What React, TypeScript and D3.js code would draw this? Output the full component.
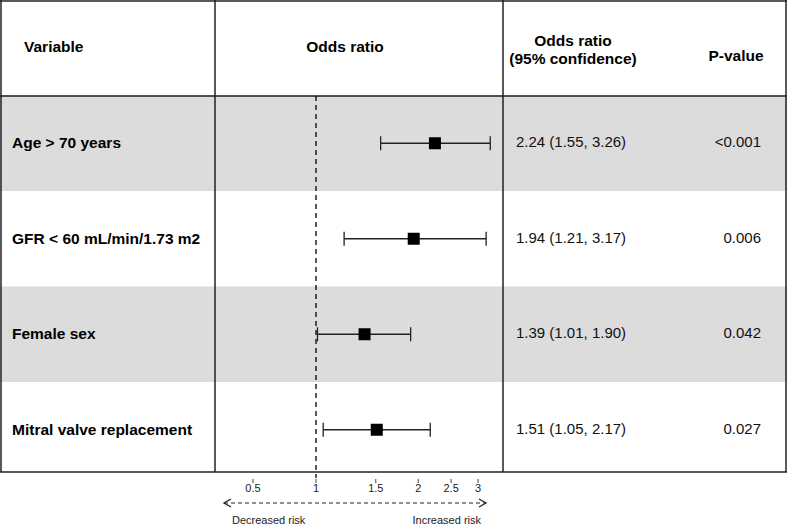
import React from "react";
import * as d3 from "d3";

const variables = ["Age > 70 years", "GFR < 60 mL/min/1.73 m2", "Female sex", "Mitral valve replacement"];
const oddsRatio = [2.24, 1.94, 1.39, 1.51];
const lowerCI = [1.55, 1.21, 1.01, 1.05];
const upperCI = [3.26, 3.17, 1.9, 2.17];
const pValues = ["<0.001", "0.006", "0.042", "0.027"];
const tickValues = [0.5, 1, 1.5, 2, 2.5, 3];
const tickLabels = ["0.5", "1", "1.5", "2", "2.5", "3"];

const W = 787;
const H = 525;
const FONT = "'Liberation Sans', Arial, Helvetica, sans-serif";

export default function App() {
  const xLog = d3.scaleLog().domain([1, 3]).range([316, 478]);
  const xLow = d3.scaleLinear().domain([0.5, 1]).range([253, 316]);
  const x = (v: number) => (v >= 1 ? xLog(v) : xLow(v));
  const y = d3.scaleBand<number>().domain(variables.map((_, i) => i)).range([95.5, 477.5]);
  const bw = y.bandwidth();
  const lineColor = "#222";
  const sq = 12;

  return (
    <svg width={W} height={H} style={{ position: "absolute", left: 0, top: 0, display: "block", background: "#fff" }} fontFamily={FONT}>
      {/* gray row backgrounds */}
      {variables.map((_, i) =>
        i % 2 === 0 ? (
          <rect key={"bg" + i} x={0} y={y(i)!} width={W} height={bw} fill="#dcdcdc" />
        ) : null
      )}
      {/* table lines */}
      <line x1={0} x2={W} y1={1} y2={1} stroke={lineColor} strokeWidth={1.5} />
      <line x1={1} x2={1} y1={0} y2={472} stroke={lineColor} strokeWidth={1.5} />
      <line x1={786} x2={786} y1={0} y2={472} stroke={lineColor} strokeWidth={1.5} />
      <line x1={0} x2={W} y1={96} y2={96} stroke={lineColor} strokeWidth={1.5} />
      <line x1={0} x2={W} y1={472} y2={472} stroke={lineColor} strokeWidth={1.5} />
      <line x1={215} x2={215} y1={0} y2={472} stroke={lineColor} strokeWidth={1.5} />
      <line x1={503} x2={503} y1={0} y2={472} stroke={lineColor} strokeWidth={1.5} />

      {/* headers */}
      <g fontWeight="bold" fontSize={15.5} fill="#000">
        <text x={24} y={52}>Variable</text>
        <text x={345} y={52} textAnchor="middle">Odds ratio</text>
        <text x={573} y={46} textAnchor="middle">Odds ratio</text>
        <text x={573} y={64} textAnchor="middle">(95% confidence)</text>
        <text x={736} y={61} textAnchor="middle">P-value</text>
      </g>

      {/* reference line at OR = 1 */}
      <line x1={x(1)} x2={x(1)} y1={96} y2={478} stroke="#000" strokeWidth={1.3} strokeDasharray="5,4" />

      {/* rows */}
      {variables.map((v, i) => {
        const cy = y(i)! + bw / 2;
        return (
          <g key={"row" + i}>
            <text x={12} y={cy + 5} fontWeight="bold" fontSize={15.5} fill="#000">{v}</text>
            <line x1={x(lowerCI[i])} x2={x(upperCI[i])} y1={cy} y2={cy} stroke={lineColor} strokeWidth={1.3} />
            <line x1={x(lowerCI[i])} x2={x(lowerCI[i])} y1={cy - 7} y2={cy + 7} stroke={lineColor} strokeWidth={1.3} />
            <line x1={x(upperCI[i])} x2={x(upperCI[i])} y1={cy - 7} y2={cy + 7} stroke={lineColor} strokeWidth={1.3} />
            <rect x={x(oddsRatio[i]) - sq / 2} y={cy - sq / 2} width={sq} height={sq} fill="#000" />
            <text x={516} y={cy + 4} fontSize={15} fill="#111">
              {`${oddsRatio[i].toFixed(2)} (${lowerCI[i].toFixed(2)}, ${upperCI[i].toFixed(2)})`}
            </text>
            <text x={761} y={cy + 4} fontSize={15} fill="#111" textAnchor="end">{pValues[i]}</text>
          </g>
        );
      })}

      {/* axis ticks */}
      {tickValues.map((t, i) => (
        <g key={"t" + i}>
          <line x1={x(t)} x2={x(t)} y1={479} y2={483} stroke="#444" strokeWidth={1} />
          <text x={x(t)} y={492} fontSize={11} textAnchor="middle" fill="#222">{tickLabels[i]}</text>
        </g>
      ))}

      {/* arrow */}
      <line x1={224} x2={486} y1={503} y2={503} stroke="#222" strokeWidth={1.2} strokeDasharray="4,3" />
      <polyline points="231,499 224,503 231,507" fill="none" stroke="#222" strokeWidth={1.3} />
      <polyline points="479,499 486,503 479,507" fill="none" stroke="#222" strokeWidth={1.3} />
      <text x={232} y={524} fontSize={11} fill="#222">Decreased risk</text>
      <text x={481} y={524} fontSize={11} fill="#222" textAnchor="end">Increased risk</text>
    </svg>
  );
}
